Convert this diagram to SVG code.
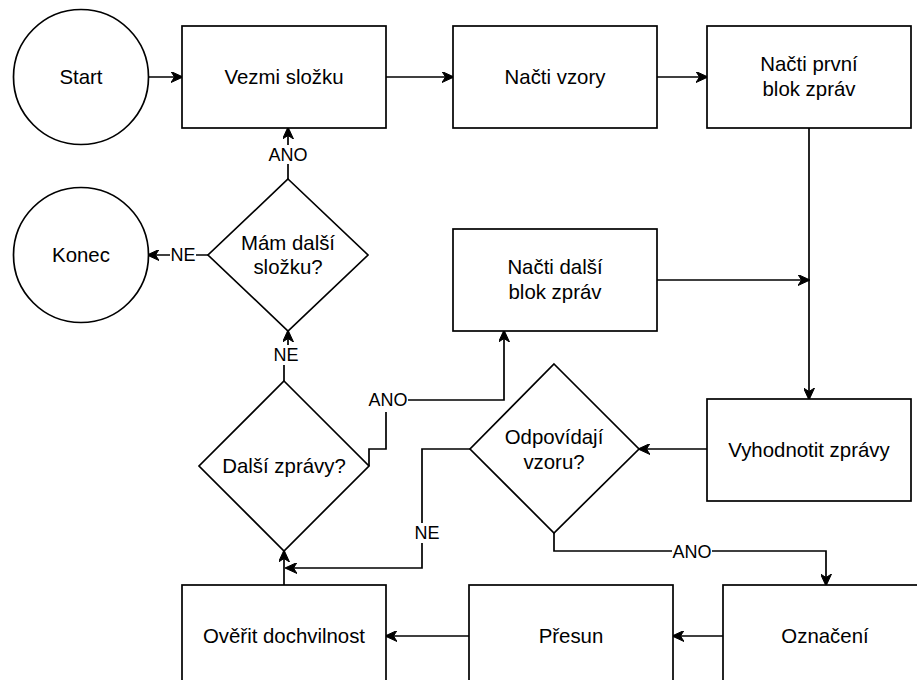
<svg xmlns="http://www.w3.org/2000/svg" width="917" height="680" viewBox="0 0 917 680">
<style>
.s{fill:#fff;stroke:#000;stroke-width:1.7}
.t{font-family:"Liberation Sans",Arial,sans-serif;font-size:20.4px;fill:#000;text-anchor:middle}
.l{font-family:"Liberation Sans",Arial,sans-serif;font-size:18px;fill:#000;text-anchor:middle}
.c{fill:none;stroke:#000;stroke-width:1.7;marker-end:url(#a)}
.b{fill:#fff;stroke:none}
</style>
<defs>
<marker id="a" viewBox="0 0 12 11" refX="11" refY="5.5" markerWidth="12" markerHeight="11" markerUnits="userSpaceOnUse" orient="auto">
<path d="M0,0 L12,5.5 L0,11 L3.5,5.5 z" fill="#000" stroke="#000" stroke-width="1"/>
</marker>
</defs>
<rect width="917" height="680" fill="#fff"/>
<g id="connectors">
<path class="c" d="M148,77 L182,77"/>
<path class="c" d="M386,77 L453,77"/>
<path class="c" d="M657,77 L707,77"/>
<path class="c" d="M809,128 L809,399"/>
<path class="c" d="M657,280 L809,280"/>
<path class="c" d="M707,449 L639,449"/>
<path class="c" d="M554,533 L554,551 L826,551 L826,585"/>
<path class="c" d="M470,449 L422,449 L422,568 L286,568"/>
<path class="c" d="M284,585 L284,551"/>
<path class="c" d="M723,636 L673,636"/>
<path class="c" d="M469,636 L386,636"/>
<path class="c" d="M369,466 L369,449 L386,449 L386,400 L504,400 L504,331"/>
<path class="c" d="M284,381 L284,356 L288,356 L288,331"/>
<path class="c" d="M288,179 L288,128"/>
<path class="c" d="M208,255 L148,255"/>
<g id="labels">
<rect class="b" x="672" y="542" width="40" height="20"/><text class="l" x="692" y="558">ANO</text>
<rect class="b" x="414" y="523" width="26" height="20"/><text class="l" x="427" y="539">NE</text>
<rect class="b" x="368" y="390" width="40" height="22"/><text class="l" x="388" y="406">ANO</text>
<rect class="b" x="273" y="345" width="26" height="20"/><text class="l" x="286" y="361">NE</text>
<rect class="b" x="268" y="145" width="40" height="19"/><text class="l" x="288" y="161">ANO</text>
<rect class="b" x="170" y="245" width="26" height="20"/><text class="l" x="183" y="261">NE</text>
</g>
</g>
<g id="start"><circle class="s" cx="81" cy="77" r="67.5"/><text class="t" x="81" y="84">Start</text></g>
<g id="vezmi"><rect class="s" x="182" y="26" width="204" height="102"/><text class="t" x="284" y="84">Vezmi složku</text></g>
<g id="nacti-vzory"><rect class="s" x="453" y="26" width="204" height="102"/><text class="t" x="555" y="84">Načti vzory</text></g>
<g id="nacti-prvni"><rect class="s" x="707" y="26" width="204" height="102"/><text class="t" x="809" y="71">Načti první</text><text class="t" x="809" y="96">blok zpráv</text></g>
<g id="konec"><circle class="s" cx="81" cy="255" r="67.5"/><text class="t" x="81" y="262">Konec</text></g>
<g id="mam-dalsi"><polygon class="s" points="288,179 368,255 288,331 208,255"/><text class="t" x="288" y="250">Mám další</text><text class="t" x="288" y="274">složku?</text></g>
<g id="nacti-dalsi"><rect class="s" x="453" y="229" width="204" height="102"/><text class="t" x="555" y="274">Načti další</text><text class="t" x="555" y="299">blok zpráv</text></g>
<g id="dalsi-zpravy"><polygon class="s" points="284,381 369,466 284,551 199,466"/><text class="t" x="284" y="473">Další zprávy?</text></g>
<g id="odpovidaji"><polygon class="s" points="554,364 639,449 554,533 470,449"/><text class="t" x="554" y="444">Odpovídají</text><text class="t" x="554" y="469">vzoru?</text></g>
<g id="vyhodnotit"><rect class="s" x="707" y="399" width="204" height="102"/><text class="t" x="809" y="457">Vyhodnotit zprávy</text></g>
<g id="overit"><rect class="s" x="182" y="585" width="204" height="102"/><text class="t" x="284" y="643">Ověřit dochvilnost</text></g>
<g id="presun"><rect class="s" x="469" y="585" width="204" height="102"/><text class="t" x="571" y="643">Přesun</text></g>
<g id="oznaceni"><rect class="s" x="723" y="585" width="204" height="102"/><text class="t" x="825" y="643">Označení</text></g>
</svg>
